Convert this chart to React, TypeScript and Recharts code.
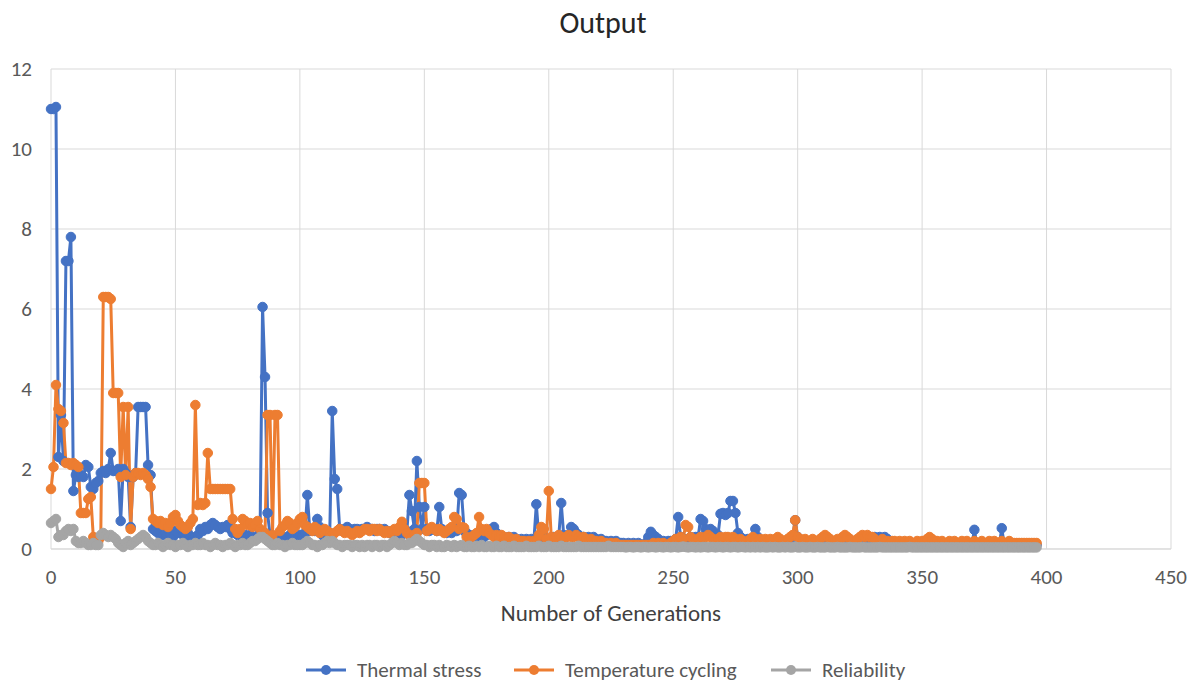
import React from 'react';
import { LineChart, Line, XAxis, YAxis, CartesianGrid } from 'recharts';

const thermalStress = [
  11.0, 11.0, 11.05, 2.3, 3.35, 2.2, 7.2, 7.2, 7.8, 1.45,
  1.85, 1.8, 1.85, 1.8, 2.1, 2.05, 1.55, 1.5, 1.65, 1.7,
  1.9, 1.95, 1.9, 2.0, 2.4, 1.95, 1.95, 2.0, 0.7, 2.0,
  1.9, 1.8, 0.55, 1.8, 1.9, 3.55, 3.55, 3.55, 3.55, 2.1,
  1.85, 0.5, 0.45, 0.4, 0.45, 0.35, 0.4, 0.5, 0.35, 0.3,
  0.45, 0.4, 0.5, 0.35, 0.3, 0.4, 0.3, 0.25, 0.3, 0.35,
  0.5, 0.45, 0.55, 0.5, 0.6, 0.65, 0.6, 0.55, 0.5, 0.55,
  0.55, 0.6, 0.5, 0.4, 0.45, 0.35, 0.4, 0.3, 0.35, 0.3,
  0.35, 0.3, 0.25, 0.3, 0.4, 6.05, 4.3, 0.9, 0.35, 0.3,
  0.3, 0.25, 0.3, 0.3, 0.25, 0.3, 0.35, 0.3, 0.3, 0.25,
  0.35, 0.3, 0.4, 1.35, 0.45, 0.5, 0.45, 0.75, 0.55, 0.35,
  0.3, 0.35, 0.4, 3.45, 1.75, 1.5, 0.5, 0.45, 0.5, 0.55,
  0.5, 0.45, 0.5, 0.5, 0.45, 0.5, 0.5, 0.55, 0.5, 0.5,
  0.45, 0.5, 0.5, 0.45, 0.5, 0.45, 0.4, 0.45, 0.4, 0.35,
  0.4, 0.35, 0.4, 0.45, 1.35, 0.95, 0.5, 2.2, 1.05, 0.5,
  1.05, 0.5, 0.45, 0.5, 0.5, 0.45, 1.05, 0.5, 0.45, 0.4,
  0.45, 0.4, 0.5, 0.45, 1.4, 1.35, 0.45, 0.4, 0.35, 0.3,
  0.35, 0.3, 0.3, 0.35, 0.3, 0.35, 0.4, 0.5, 0.55, 0.4,
  0.35, 0.3, 0.3, 0.25, 0.3, 0.25, 0.3, 0.25, 0.2, 0.25,
  0.2, 0.25, 0.2, 0.25, 0.2, 1.12, 0.3, 0.25, 0.2, 0.25,
  0.2, 0.25, 0.3, 0.25, 0.3, 1.15, 0.35, 0.3, 0.35, 0.55,
  0.5, 0.4, 0.35, 0.3, 0.3, 0.25, 0.3, 0.25, 0.3, 0.25,
  0.2, 0.25, 0.2, 0.2, 0.15, 0.2, 0.15, 0.2, 0.15, 0.15,
  0.15, 0.1, 0.15, 0.1, 0.15, 0.1, 0.15, 0.1, 0.1, 0.15,
  0.3, 0.43, 0.35, 0.3, 0.25, 0.2, 0.2, 0.15, 0.2, 0.2,
  0.2, 0.25, 0.8, 0.3, 0.25, 0.2, 0.25, 0.3, 0.25, 0.3,
  0.3, 0.75, 0.7, 0.5, 0.45, 0.5, 0.45, 0.3, 0.35, 0.88,
  0.9, 0.85, 0.9, 1.2, 1.2, 0.9, 0.4, 0.3, 0.25, 0.2,
  0.25, 0.2, 0.25, 0.5, 0.3, 0.2, 0.15, 0.2, 0.15, 0.2,
  0.15, 0.15, 0.2, 0.15, 0.15, 0.2, 0.15, 0.2, 0.3, 0.72,
  0.3, 0.2, 0.15, 0.15, 0.1, 0.15, 0.1, 0.15, 0.1, 0.15,
  0.15, 0.2, 0.25, 0.15, 0.1, 0.15, 0.1, 0.1, 0.15, 0.1,
  0.15, 0.1, 0.1, 0.15, 0.1, 0.15, 0.2, 0.25, 0.2, 0.25,
  0.25, 0.3, 0.25, 0.3, 0.25, 0.3, 0.25, 0.15, 0.1, 0.1,
  0.1, 0.15, 0.1, 0.1, 0.1, 0.15, 0.1, 0.1, 0.1, 0.1,
  0.1, 0.1, 0.15, 0.1, 0.1, 0.1, 0.1, 0.1, 0.1, 0.1,
  0.1, 0.1, 0.1, 0.1, 0.1, 0.1, 0.1, 0.1, 0.1, 0.1,
  0.1, 0.48, 0.1, 0.1, 0.1, 0.1, 0.1, 0.1, 0.1, 0.1,
  0.1, 0.1, 0.52, 0.1, 0.1, 0.1, 0.1, 0.1, 0.1, 0.1,
  0.1, 0.1, 0.1, 0.1, 0.1, 0.1, 0.1,
];

const temperatureCycling = [
  1.5, 2.05, 4.1, 3.5, 3.45, 3.15, 2.15, 2.15, 2.1, 2.15,
  2.1, 2.05, 0.9, 0.9, 0.9, 1.25, 1.3, 0.3, 0.25, 0.2,
  0.3, 6.3, 6.3, 6.3, 6.25, 3.9, 3.9, 3.9, 1.8, 3.55,
  1.85, 3.55, 0.5, 1.8, 1.9, 1.9, 1.85, 1.9, 1.85, 1.75,
  1.55, 0.75, 0.7, 0.65, 0.7, 0.6, 0.65, 0.55, 0.65, 0.8,
  0.85, 0.7, 0.6, 0.55, 0.5, 0.55, 0.65, 0.75, 3.6, 1.1,
  1.15, 1.1, 1.15, 2.4, 1.5, 1.5, 1.5, 1.5, 1.5, 1.5,
  1.5, 1.5, 1.5, 0.75, 0.5, 0.4, 0.5, 0.75, 0.7, 0.6,
  0.65, 0.55, 0.6, 0.7, 0.5, 0.45, 0.4, 3.35, 3.35, 0.35,
  3.35, 3.35, 0.45, 0.55, 0.6, 0.7, 0.65, 0.5, 0.55, 0.65,
  0.75, 0.8, 0.6, 0.55, 0.5, 0.45, 0.55, 0.5, 0.4, 0.45,
  0.5, 0.45, 0.4, 0.35, 0.4, 0.45, 0.5, 0.45, 0.4, 0.45,
  0.4, 0.35, 0.4, 0.45, 0.4, 0.45, 0.5, 0.5, 0.45, 0.5,
  0.5, 0.45, 0.5, 0.45, 0.4, 0.45, 0.4, 0.45, 0.5, 0.45,
  0.55, 0.68, 0.5, 0.4, 0.35, 0.3, 0.35, 0.4, 1.65, 1.65,
  1.65, 0.45, 0.5, 0.55, 0.5, 0.45, 0.5, 0.45, 0.4, 0.45,
  0.5, 0.55, 0.8, 0.75, 0.5, 0.55, 0.53, 0.3, 0.25, 0.3,
  0.35, 0.4, 0.8, 0.5, 0.45, 0.5, 0.4, 0.35, 0.3, 0.35,
  0.3, 0.35, 0.3, 0.25, 0.3, 0.25, 0.2, 0.25, 0.2, 0.2,
  0.2, 0.15, 0.2, 0.15, 0.2, 0.2, 0.35, 0.55, 0.5, 0.25,
  1.45, 0.3, 0.25, 0.3, 0.35, 0.3, 0.25, 0.3, 0.35, 0.3,
  0.3, 0.35, 0.3, 0.25, 0.3, 0.25, 0.2, 0.25, 0.2, 0.2,
  0.15, 0.2, 0.15, 0.15, 0.1, 0.15, 0.1, 0.15, 0.1, 0.1,
  0.1, 0.1, 0.1, 0.1, 0.1, 0.1, 0.1, 0.1, 0.1, 0.1,
  0.1, 0.1, 0.15, 0.1, 0.15, 0.1, 0.15, 0.1, 0.1, 0.15,
  0.2, 0.25, 0.25, 0.3, 0.25, 0.6, 0.55, 0.3, 0.25, 0.2,
  0.25, 0.3, 0.25, 0.3, 0.35, 0.3, 0.25, 0.2, 0.25, 0.3,
  0.25, 0.3, 0.3, 0.25, 0.3, 0.25, 0.2, 0.25, 0.2, 0.15,
  0.2, 0.25, 0.3, 0.25, 0.2, 0.25, 0.2, 0.25, 0.2, 0.25,
  0.2, 0.25, 0.3, 0.25, 0.2, 0.2, 0.25, 0.3, 0.35, 0.72,
  0.3, 0.25, 0.2, 0.25, 0.2, 0.2, 0.25, 0.2, 0.2, 0.25,
  0.3, 0.35, 0.3, 0.25, 0.2, 0.2, 0.25, 0.2, 0.3, 0.35,
  0.3, 0.25, 0.2, 0.2, 0.25, 0.3, 0.35, 0.3, 0.35, 0.3,
  0.3, 0.25, 0.2, 0.2, 0.25, 0.2, 0.2, 0.15, 0.2, 0.2,
  0.15, 0.2, 0.15, 0.2, 0.15, 0.2, 0.15, 0.15, 0.2, 0.15,
  0.2, 0.2, 0.25, 0.3, 0.25, 0.2, 0.2, 0.15, 0.2, 0.15,
  0.15, 0.2, 0.15, 0.2, 0.15, 0.15, 0.2, 0.15, 0.2, 0.15,
  0.15, 0.2, 0.15, 0.15, 0.2, 0.15, 0.15, 0.2, 0.15, 0.2,
  0.15, 0.15, 0.2, 0.15, 0.15, 0.2, 0.15, 0.15, 0.15, 0.15,
  0.15, 0.15, 0.15, 0.15, 0.15, 0.15, 0.15,
];

const reliability = [
  0.65, 0.7, 0.75, 0.3, 0.35, 0.35, 0.45, 0.5, 0.45, 0.5,
  0.2, 0.15, 0.15, 0.2, 0.15, 0.1, 0.1, 0.15, 0.1, 0.1,
  0.35, 0.4, 0.35, 0.3, 0.35, 0.3, 0.25, 0.15, 0.1, 0.05,
  0.15, 0.2, 0.1, 0.15, 0.2, 0.25, 0.3, 0.35, 0.3, 0.2,
  0.15, 0.1, 0.1, 0.15, 0.1, 0.05, 0.1, 0.15, 0.1, 0.1,
  0.05, 0.1, 0.1, 0.15, 0.1, 0.05, 0.1, 0.1, 0.15, 0.1,
  0.1, 0.15, 0.1, 0.1, 0.05, 0.1, 0.15, 0.1, 0.1, 0.05,
  0.1, 0.1, 0.15, 0.1, 0.05, 0.1, 0.1, 0.15, 0.1, 0.1,
  0.15, 0.2, 0.2, 0.25, 0.3, 0.3, 0.25, 0.2, 0.15, 0.1,
  0.1, 0.15, 0.1, 0.1, 0.05, 0.1, 0.1, 0.15, 0.1, 0.1,
  0.1, 0.1, 0.15, 0.2, 0.15, 0.1, 0.1, 0.05, 0.1, 0.1,
  0.15, 0.2, 0.15, 0.2, 0.15, 0.1, 0.1, 0.05, 0.1, 0.1,
  0.1, 0.05, 0.1, 0.1, 0.05, 0.1, 0.05, 0.1, 0.1, 0.05,
  0.1, 0.1, 0.05, 0.1, 0.1, 0.05, 0.1, 0.15, 0.2, 0.15,
  0.1, 0.15, 0.1, 0.1, 0.15, 0.15, 0.2, 0.25, 0.2, 0.15,
  0.1, 0.1, 0.05, 0.1, 0.1, 0.05, 0.1, 0.05, 0.05, 0.1,
  0.08, 0.05, 0.1, 0.05, 0.08, 0.1, 0.05, 0.05, 0.08, 0.05,
  0.05, 0.08, 0.05, 0.1, 0.05, 0.05, 0.08, 0.05, 0.05, 0.08,
  0.05, 0.05, 0.08, 0.05, 0.05, 0.05, 0.08, 0.05, 0.05, 0.05,
  0.05, 0.08, 0.05, 0.05, 0.05, 0.05, 0.08, 0.05, 0.05, 0.05,
  0.08, 0.05, 0.05, 0.05, 0.05, 0.08, 0.05, 0.05, 0.05, 0.05,
  0.05, 0.05, 0.08, 0.05, 0.05, 0.05, 0.05, 0.05, 0.05, 0.05,
  0.05, 0.05, 0.05, 0.05, 0.08, 0.05, 0.05, 0.05, 0.05, 0.05,
  0.05, 0.04, 0.05, 0.05, 0.04, 0.05, 0.05, 0.04, 0.05, 0.05,
  0.04, 0.05, 0.05, 0.04, 0.05, 0.05, 0.04, 0.05, 0.05, 0.04,
  0.05, 0.05, 0.04, 0.05, 0.06, 0.05, 0.04, 0.05, 0.05, 0.04,
  0.05, 0.04, 0.05, 0.05, 0.04, 0.05, 0.05, 0.04, 0.05, 0.05,
  0.04, 0.05, 0.05, 0.04, 0.05, 0.05, 0.04, 0.05, 0.05, 0.04,
  0.05, 0.04, 0.05, 0.04, 0.05, 0.04, 0.05, 0.04, 0.04, 0.05,
  0.04, 0.05, 0.04, 0.04, 0.05, 0.04, 0.05, 0.04, 0.04, 0.06,
  0.04, 0.04, 0.05, 0.04, 0.04, 0.05, 0.04, 0.04, 0.05, 0.04,
  0.04, 0.04, 0.05, 0.04, 0.04, 0.04, 0.05, 0.04, 0.04, 0.04,
  0.04, 0.05, 0.04, 0.04, 0.04, 0.04, 0.05, 0.04, 0.04, 0.04,
  0.04, 0.04, 0.04, 0.05, 0.04, 0.04, 0.04, 0.04, 0.04, 0.04,
  0.04, 0.04, 0.04, 0.04, 0.04, 0.05, 0.04, 0.04, 0.04, 0.04,
  0.04, 0.04, 0.04, 0.04, 0.04, 0.04, 0.04, 0.04, 0.04, 0.04,
  0.04, 0.04, 0.04, 0.04, 0.04, 0.04, 0.04, 0.04, 0.04, 0.04,
  0.04, 0.04, 0.04, 0.04, 0.04, 0.04, 0.04, 0.04, 0.04, 0.04,
  0.04, 0.04, 0.04, 0.04, 0.04, 0.04, 0.04, 0.04, 0.04, 0.04,
  0.04, 0.04, 0.04, 0.04, 0.04, 0.04, 0.04,
];

const xTicks = [0, 50, 100, 150, 200, 250, 300, 350, 400, 450];
const yTicks = [0, 2, 4, 6, 8, 10, 12];

const seriesInfo = [
  { key: 'thermal', name: 'Thermal stress', color: '#4472C4' },
  { key: 'temp', name: 'Temperature cycling', color: '#ED7D31' },
  { key: 'rel', name: 'Reliability', color: '#A5A5A5' },
];

const data = thermalStress.map((v, i) => ({
  gen: i,
  thermal: v,
  temp: temperatureCycling[i],
  rel: reliability[i],
}));

const FONT = "Carlito, Calibri, Lato, 'Open Sans', sans-serif";
const TEXT = '#595959';

const legendLeft = [297, 505, 762];

export default function App() {
  return (
    <div style={{ position: 'relative', width: 1180, height: 676, fontFamily: FONT, background: '#fff' }}>
      <div
        style={{
          position: 'absolute',
          left: 0,
          top: 0,
          width: 1190,
          textAlign: 'center',
          fontSize: 30,
          color: '#262626',
          lineHeight: '30px',
          zIndex: 2,
        }}
      >
        Output
      </div>
      <LineChart
        width={1180}
        height={668}
        data={data}
        margin={{ top: 61, right: 17, bottom: 57, left: 10 }}
        style={{ fontFamily: FONT }}
      >
        <CartesianGrid stroke="#D9D9D9" strokeWidth={1} />
        <XAxis
          type="number"
          dataKey="gen"
          domain={[0, 450]}
          ticks={xTicks}
          tickLine={false}
          axisLine={{ stroke: '#D9D9D9' }}
          tick={{ fill: TEXT, fontSize: 21, fontFamily: FONT }}
          tickMargin={14}
          height={70}
          label={{
            value: 'Number of Generations',
            position: 'insideBottom',
            offset: -2,
            fill: '#404040',
            fontSize: 23,
            fontFamily: FONT,
          }}
        />
        <YAxis
          type="number"
          domain={[0, 12]}
          ticks={yTicks}
          tickLine={false}
          axisLine={false}
          width={33}
          tickMargin={13}
          tick={{ fill: TEXT, fontSize: 21, fontFamily: FONT }}
        />
        {seriesInfo.map((s) => (
          <Line
            key={s.key}
            type="linear"
            dataKey={s.key}
            name={s.name}
            stroke={s.color}
            strokeWidth={3}
            dot={{ r: 4.75, fill: s.color, stroke: s.color, strokeWidth: 1 }}
            activeDot={false}
            isAnimationActive={false}
          />
        ))}
      </LineChart>
      {seriesInfo.map((s, i) => (
        <div
          key={s.key}
          style={{
            position: 'absolute',
            left: legendLeft[i],
            top: 650,
            height: 24,
            display: 'flex',
            alignItems: 'center',
            fontSize: 21,
            color: TEXT,
            whiteSpace: 'nowrap',
          }}
        >
          <svg width={42} height={14} style={{ marginRight: 10 }}>
            <line x1={1} y1={7} x2={41} y2={7} stroke={s.color} strokeWidth={3} />
            <circle cx={21} cy={7} r={5} fill={s.color} />
          </svg>
          <span>{s.name}</span>
        </div>
      ))}
    </div>
  );
}
